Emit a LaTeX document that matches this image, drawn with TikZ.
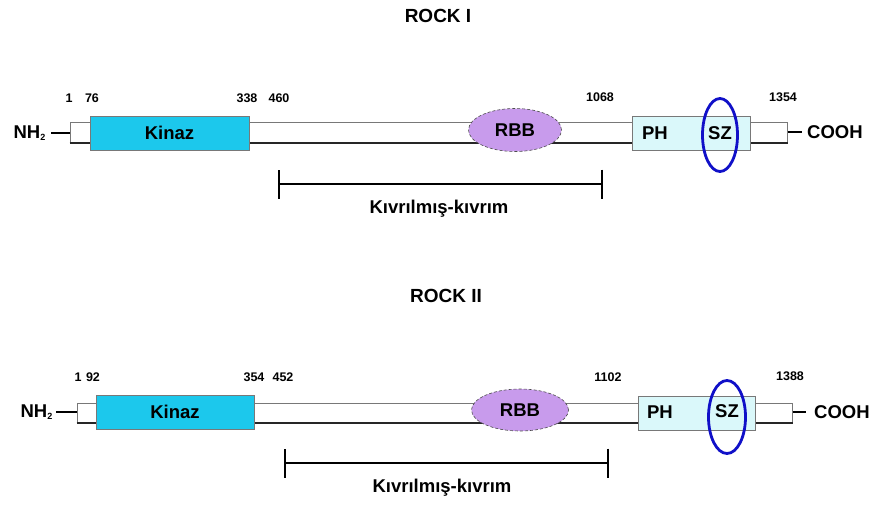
\documentclass[tikz,border=0pt]{standalone}
\usepackage{fontspec}
\setmainfont{Liberation Sans}
\usetikzlibrary{shapes.geometric,arrows.meta}

\definecolor{kinazcol}{RGB}{28,200,236}
\definecolor{phcol}{RGB}{218,248,250}
\definecolor{rbbcol}{RGB}{200,155,236}
\definecolor{szcol}{RGB}{16,16,200}
\definecolor{edgecol}{RGB}{120,120,120}

\tikzset{
  titletext/.style={font=\bfseries\fontsize{19}{19}\selectfont, inner sep=0pt},
  posnum/.style={font=\bfseries\fontsize{12.5}{12.5}\selectfont, inner sep=0pt},
  lbl/.style={font=\bfseries\fontsize{18.5}{18.5}\selectfont, inner sep=0pt},
  chain/.style={draw=edgecol, fill=white, line width=1pt, rectangle, inner sep=0pt},
  chainbase/.style={line width=2pt, black!85},
  kinazbox/.style={draw=edgecol, fill=kinazcol, line width=0.8pt, rectangle, inner sep=0pt},
  phbox/.style={draw=edgecol, fill=phcol, line width=0.8pt, rectangle, inner sep=0pt},
  rbbell/.style={draw=black!70, densely dashed, fill=rbbcol, line width=0.6pt, ellipse, inner sep=0pt},
  szell/.style={draw=szcol, line width=2.8pt, ellipse, inner sep=0pt},
  termline/.style={line width=1.6pt, black},
  spanbar/.style={line width=1.6pt, black, {Bar[width=29pt,line width=1.6pt]}-{Bar[width=29pt,line width=1.6pt]}},
}

\begin{document}
\begin{tikzpicture}[x=1pt,y=-1pt]
\useasboundingbox (0,0) rectangle (870,504);

% ---------------- ROCK I ----------------
\node[titletext] (t1) at (438,16) {ROCK I};

\node[chain, minimum width=717pt, minimum height=20pt] (bar1) at (428.5,132) {};
\draw[chainbase] (bar1.south west) -- (bar1.south east);
\node[kinazbox, minimum width=159pt, minimum height=34pt] (kin1) at (169.5,133) {};
\node[lbl] (kinl1) at (169.5,133) {Kinaz};
\node[rbbell, minimum width=93pt, minimum height=43pt] (rbb1) at (515,130) {};
\node[lbl] (rbbl1) at (515,130) {RBB};
\node[phbox, minimum width=118pt, minimum height=34pt] (ph1) at (691,133) {};
\node[lbl] (phl1) at (655,133) {PH};
\node[lbl] (szl1) at (720,133) {SZ};
\node[szell, minimum width=35pt, minimum height=73pt] (sz1) at (720,135) {};

\node[lbl, anchor=east] (nh1) at (46,133) {NH\textsubscript{\fontsize{9}{9}\selectfont 2}};
\draw[termline] ([xshift=5pt]nh1.east) -- (nh1.east -| bar1.west);
\node[lbl, anchor=west] (co1) at (807,132) {COOH};
\draw[termline] (co1.west -| bar1.east) -- ([xshift=-5pt]co1.west);

\node[posnum] (p1a) at (69,98) {1};
\node[posnum] (p1b) at (92,98) {76};
\node[posnum] (p1c) at (247,98) {338};
\node[posnum] (p1d) at (279,98) {460};
\node[posnum] (p1e) at (600,97) {1068};
\node[posnum] (p1f) at (783,97) {1354};

\coordinate (cc1a) at (278,184);
\coordinate (cc1b) at (603,184);
\draw[spanbar] (cc1a) -- (cc1b);
\node[lbl] (cc1) at (439,209) {Kıvrılmış-kıvrım};

% ---------------- ROCK II ----------------
\node[titletext] (t2) at (446,296) {ROCK II};

\node[chain, minimum width=715pt, minimum height=19pt] (bar2) at (434.5,412.5) {};
\draw[chainbase] (bar2.south west) -- (bar2.south east);
\node[kinazbox, minimum width=158pt, minimum height=34pt] (kin2) at (175,412) {};
\node[lbl] (kinl2) at (175,412) {Kinaz};
\node[rbbell, minimum width=97pt, minimum height=42pt] (rbb2) at (520,410) {};
\node[lbl] (rbbl2) at (520,410) {RBB};
\node[phbox, minimum width=117pt, minimum height=34pt] (ph2) at (696.5,413) {};
\node[lbl] (phl2) at (660,412) {PH};
\node[lbl] (szl2) at (727,411) {SZ};
\node[szell, minimum width=37pt, minimum height=73pt] (sz2) at (727,417) {};

\node[lbl, anchor=east] (nh2) at (53,412) {NH\textsubscript{\fontsize{9}{9}\selectfont 2}};
\draw[termline] ([xshift=3pt]nh2.east) -- (nh2.east -| bar2.west);
\node[lbl, anchor=west] (co2) at (814,412) {COOH};
\draw[termline] (co2.west -| bar2.east) -- ([xshift=-8pt]co2.west);

\node[posnum] (p2a) at (78,377) {1};
\node[posnum] (p2b) at (93,377) {92};
\node[posnum] (p2c) at (254,377) {354};
\node[posnum] (p2d) at (283,377) {452};
\node[posnum] (p2e) at (608,377) {1102};
\node[posnum] (p2f) at (790,376) {1388};

\coordinate (cc2a) at (284,463);
\coordinate (cc2b) at (609,463);
\draw[spanbar] (cc2a) -- (cc2b);
\node[lbl] (cc2) at (442,488) {Kıvrılmış-kıvrım};
\end{tikzpicture}
\end{document}
